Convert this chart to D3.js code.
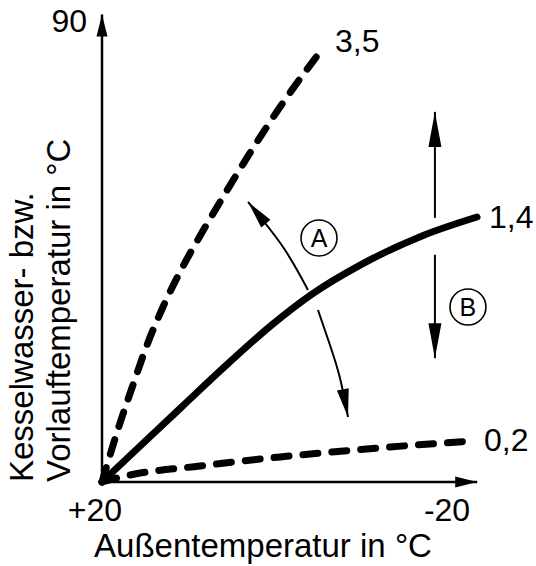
<!DOCTYPE html>
<html>
<head>
<meta charset="utf-8">
<script src="https://cdn.jsdelivr.net/npm/d3@7"></script>
<style>
  html,body{margin:0;padding:0;background:#fff;}
  svg{display:block;font-family:"Liberation Sans",Arial,Helvetica,sans-serif;}
</style>
</head>
<body>
<svg id="chart" width="536" height="566"></svg>
<script>
// ===== data (outside temp °C, flow temp °C) =====
const curveNames = ["3,5", "1,4", "0,2"];
const outside35 = [20, 19.07, 17.91, 16.41, 14.78, 12.93, 10.96, 8.64, 5.97, 2.84, -0.64, -5.62];
const flow35    = [20, 24.10, 28.96, 34.73, 40.80, 46.57, 51.89, 57.35, 63.27, 69.96, 76.94, 85.90];
const outside14 = [20, 15.36, 10.72, 6.09, 0.29, -4.35, -10.14, -17.10, -23.48];
const flow14    = [20, 25.74, 31.45, 37.13, 43.88, 48.53, 53.09, 57.37, 60.24];
const outside02 = [20, 16.75, 8.64, -0.64, -13.39, -22.90];
const flow02    = [20, 21.06, 22.43, 23.80, 25.31, 26.23];

const xTickValues = [20, -20];
const xTickLabels = ["+20", "-20"];
const yTickValues = [90];
const yTickLabels = ["90"];
const xAxisEnd = -23.5;
const yAxisEnd = 91;

const xTitle = "Außentemperatur in °C";
const yTitle = ["Kesselwasser- bzw.", "Vorlauftemperatur in °C"];

// annotation A: curved arrow (upper and lower part)
const arcUpOutside   = [-3.88, -0.99, 3.07];
const arcUpFlow      = [49.15, 55.68, 62.52];
const arcDownOutside = [-5.04, -6.43, -7.59, -8.52];
const arcDownFlow    = [46.12, 40.80, 35.79, 29.87];
// annotation B: parallel shift arrows
const shiftOutside = -18.6;
const shiftUpFlow   = [60.1, 76.2];
const shiftDownFlow = [54.5, 38.8];
// circled letters
const markLetters = ["A", "B"];
const markOutside = [-5.16, -22.43];
const markFlow    = [57.05, 46.57];

// ===== setup =====
const svg = d3.select("#chart");
const x = d3.scaleLinear().domain([20, -20]).range([102, 447]);
const y = d3.scaleLinear().domain([20, 90]).range([482, 21]);

const defs = svg.append("defs");
function head(id, len, half){
  defs.append("marker")
    .attr("id", id)
    .attr("markerUnits", "userSpaceOnUse")
    .attr("viewBox", `${-len-2} ${-half-2} ${len+4} ${half*2+4}`)
    .attr("markerWidth", len+4).attr("markerHeight", half*2+4)
    .attr("refX", 0).attr("refY", 0)
    .attr("orient", "auto")
    .append("path")
    .attr("d", `M0,0L${-len},${-half}L${-len},${half}Z`)
    .attr("fill", "#000");
}
head("axisHead", 22, 5.5);
head("bigHead", 35, 6.5);
head("arcHead", 28, 6);

const zip = (a, b) => a.map((v, i) => [v, b[i]]);

// ===== axes =====
const axesG = svg.append("g");
axesG.append("line")
  .attr("x1", x(20)).attr("y1", y(20))
  .attr("x2", x(xAxisEnd)).attr("y2", y(20))
  .attr("stroke", "#000").attr("stroke-width", 2.5)
  .attr("marker-end", "url(#axisHead)");
axesG.append("line")
  .attr("x1", x(20)).attr("y1", y(20))
  .attr("x2", x(20)).attr("y2", y(yAxisEnd))
  .attr("stroke", "#000").attr("stroke-width", 2.5)
  .attr("marker-end", "url(#axisHead)");

const txt = svg.append("g").attr("fill", "#000");
xTickValues.forEach((v, i) => {
  txt.append("text")
    .attr("x", x(v) + (i === 0 ? -7 : 0)).attr("y", y(20) + 39)
    .attr("text-anchor", "middle")
    .attr("font-size", 32)
    .text(xTickLabels[i]);
});
yTickValues.forEach((v, i) => {
  txt.append("text")
    .attr("x", x(20) - 15).attr("y", y(v))
    .attr("dy", "0.35em")
    .attr("text-anchor", "end")
    .attr("font-size", 32)
    .text(yTickLabels[i]);
});
txt.append("text")
  .attr("x", 263).attr("y", 557)
  .attr("text-anchor", "middle")
  .attr("font-size", 33)
  .text(xTitle);
yTitle.forEach((t, i) => {
  const bx = 33 + i * 37, by = y(20);
  txt.append("text")
    .attr("transform", `translate(${bx},${by}) rotate(-90)`)
    .attr("text-anchor", "start")
    .attr("font-size", 33)
    .text(t);
});

// ===== curves =====
const line = d3.line()
  .x(d => x(d[0])).y(d => y(d[1]))
  .curve(d3.curveMonotoneX);

const curves = [zip(outside35, flow35), zip(outside14, flow14), zip(outside02, flow02)];
const dashed = [true, false, true];
const labelDy = [-7, 0, -1];
const curveG = svg.append("g");
curves.forEach((pts, i) => {
  curveG.append("path")
    .attr("d", line(pts))
    .attr("fill", "none")
    .attr("stroke", "#000")
    .attr("stroke-width", 7)
    .attr("stroke-linecap", "round")
    .attr("stroke-dasharray", dashed[i] ? "15,14" : null);
  const end = pts[pts.length - 1];
  txt.append("text")
    .attr("x", x(end[0]) + 12).attr("y", y(end[1]) + labelDy[i])
    .attr("dy", "0.35em")
    .attr("font-size", 32)
    .text(curveNames[i]);
});

// ===== annotations =====
const annG = svg.append("g");
const arcLine = d3.line().x(d => x(d[0])).y(d => y(d[1])).curve(d3.curveNatural);
[zip(arcUpOutside, arcUpFlow), zip(arcDownOutside, arcDownFlow)].forEach(pts => {
  annG.append("path")
    .attr("d", arcLine(pts))
    .attr("fill", "none").attr("stroke", "#000").attr("stroke-width", 2)
    .attr("marker-end", "url(#arcHead)");
});
[shiftUpFlow, shiftDownFlow].forEach(fl => {
  annG.append("line")
    .attr("x1", x(shiftOutside)).attr("y1", y(fl[0]))
    .attr("x2", x(shiftOutside)).attr("y2", y(fl[1]))
    .attr("stroke", "#000").attr("stroke-width", 2)
    .attr("marker-end", "url(#bigHead)");
});
markLetters.forEach((l, i) => {
  const cx = x(markOutside[i]), cy = y(markFlow[i]);
  annG.append("circle")
    .attr("cx", cx).attr("cy", cy).attr("r", 18)
    .attr("fill", "#fff").attr("stroke", "#000").attr("stroke-width", 1.6);
  annG.append("text")
    .attr("x", cx).attr("y", cy).attr("dy", "0.36em")
    .attr("text-anchor", "middle")
    .attr("font-size", 25)
    .text(l);
});
</script>
</body>
</html>
